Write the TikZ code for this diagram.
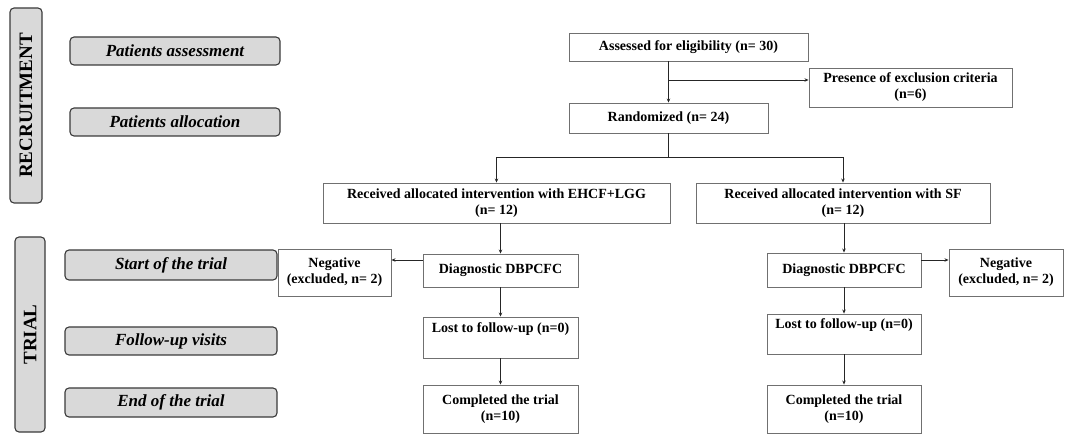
\documentclass[tikz,border=0pt]{standalone}
\usepackage{fontspec}
\setmainfont{Liberation Serif}
\usetikzlibrary{arrows.meta}
\definecolor{lblfill}{HTML}{D9D9D9}
\definecolor{lbldraw}{HTML}{3A3A3A}
\definecolor{boxdraw}{HTML}{707070}
\tikzset{
  box/.style={draw=boxdraw, line width=0.9pt, fill=white, inner sep=0pt, align=center,
    font=\fontsize{14}{16}\selectfont\bfseries},
  lbl/.style={draw=lbldraw, line width=1.1pt, fill=lblfill, rounded corners=4pt, inner sep=0pt,
    font=\fontsize{17}{19}\selectfont\bfseries\itshape},
  side/.style={draw=lbldraw, line width=1.1pt, fill=lblfill, rounded corners=4pt, inner sep=0pt,
    font=\fontsize{19}{21}\selectfont\bfseries},
  arr/.style={draw=black!85, line width=0.8pt, -{Stealth[length=4pt,width=3.5pt]}},
  ln/.style={draw=black!85, line width=0.8pt}
}
\begin{document}
\begin{tikzpicture}[x=1pt,y=-1pt]
\useasboundingbox (0,0) rectangle (1068,435);
% side labels
\node[side, minimum width=32pt, minimum height=195pt] (rec) at (26,105.5) {\rotatebox{90}{RECRUITMENT}};
\node[side, minimum width=30pt, minimum height=195pt] (trial) at (30,334.5) {\rotatebox{90}{TRIAL}};
% phase labels
\node[lbl, minimum width=210pt, minimum height=28pt] (pa) at (175,51) {Patients assessment};
\node[lbl, minimum width=210pt, minimum height=28pt] (pal) at (175,122) {Patients allocation};
\node[lbl, minimum width=212pt, minimum height=30pt] (st) at (171,265) {Start of the trial};
\node[lbl, minimum width=212pt, minimum height=28pt] (fu) at (171,341) {Follow-up visits};
\node[lbl, minimum width=212pt, minimum height=29pt] (en) at (171,402.5) {End of the trial};
% flow boxes
\node[box, minimum width=239pt, minimum height=28pt] (assess) at (688.5,47) {Assessed for eligibility (n= 30)};
\node[box, minimum width=203pt, minimum height=39pt] (excl) at (910.5,87.5) {Presence of exclusion criteria\\(n=6)};
\node[box, minimum width=199pt, minimum height=30pt] (rand) at (668.5,118) {Randomized (n= 24)};
\node[box, minimum width=347pt, minimum height=40pt] (ehcf) at (496.5,203) {Received allocated intervention with EHCF+LGG\\(n= 12)};
\node[box, minimum width=294pt, minimum height=40pt] (sf) at (843,203) {Received allocated intervention with SF\\(n= 12)};
\node[box, minimum width=155pt, minimum height=33pt] (diagL) at (500.5,270.5) {Diagnostic DBPCFC};
\node[box, minimum width=113pt, minimum height=47pt] (negL) at (334.5,272.5) {Negative\\(excluded, n= 2)};
\node[box, minimum width=155pt, minimum height=41pt] (lostL) at (500.5,337.5) {Lost to follow-up (n=0)\\\strut};
\node[box, minimum width=155pt, minimum height=48pt] (compL) at (500.5,409) {Completed the trial\\(n=10)};
\node[box, minimum width=154pt, minimum height=34pt] (diagR) at (844,270) {Diagnostic DBPCFC};
\node[box, minimum width=114pt, minimum height=47pt] (negR) at (1006,272.5) {Negative\\(excluded, n= 2)};
\node[box, minimum width=154pt, minimum height=40pt] (lostR) at (844,334) {Lost to follow-up (n=0)\\\strut};
\node[box, minimum width=154pt, minimum height=48pt] (compR) at (844,409) {Completed the trial\\(n=10)};
% connectors
\coordinate (br) at (668.5,80);
\coordinate (split) at (668.5,157);
\draw[arr] (rand.north |- assess.south) -- (rand.north);
\draw[arr] (br) -- (br -| excl.west);
\draw[ln] (rand.south) -- (split);
\draw[arr] (split) -| (ehcf.north);
\draw[arr] (split) -| (sf.north);
\draw[arr] (ehcf.south -| diagL.north) -- (diagL.north);
\draw[arr] (sf.south -| diagR.north) -- (diagR.north);
\draw[arr] (diagL.west |- 0,260) -- (negL.east |- 0,260);
\draw[arr] (diagR.east |- 0,260) -- (negR.west |- 0,260);
\draw[arr] (diagL.south) -- (lostL.north);
\draw[arr] (lostL.south) -- (compL.north);
\draw[arr] (diagR.south) -- (lostR.north);
\draw[arr] (lostR.south) -- (compR.north);
\end{tikzpicture}
\end{document}
